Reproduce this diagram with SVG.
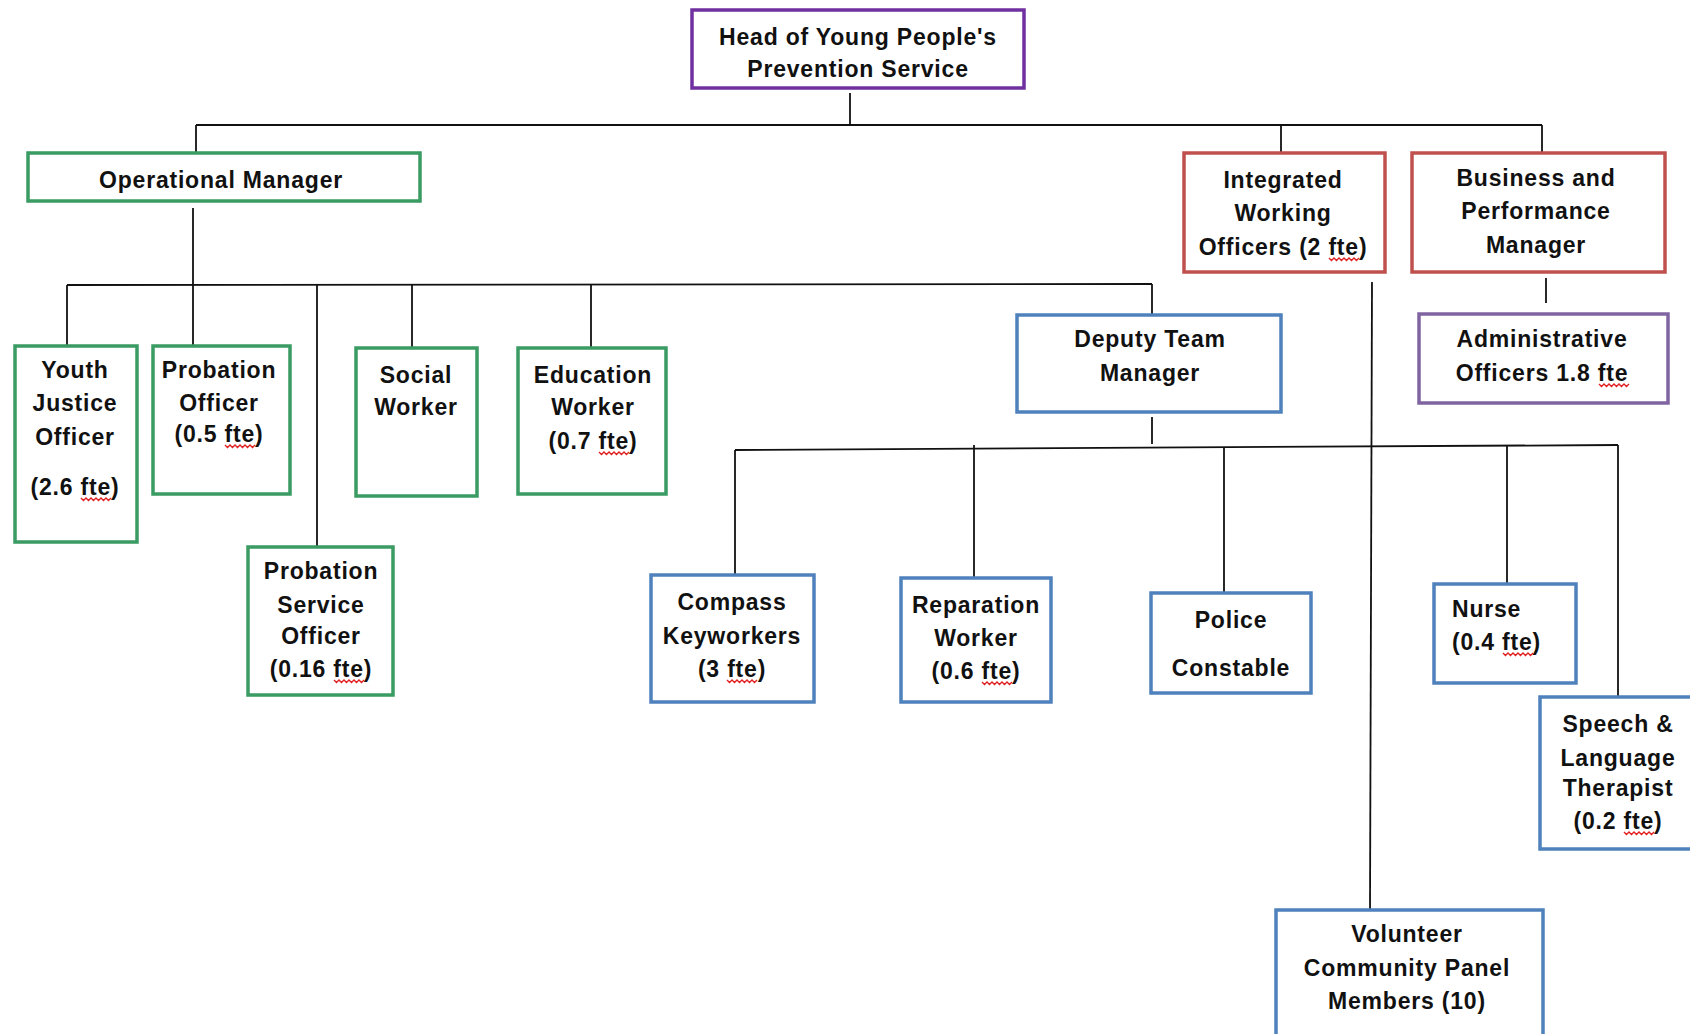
<svg xmlns="http://www.w3.org/2000/svg" xmlns:xlink="http://www.w3.org/1999/xlink" width="1690" height="1034" viewBox="0 0 1690 1034">
<style>
  .box { fill: #ffffff; stroke-width: 3.5; }
  .green { stroke: #3A9B63; }
  .red { stroke: #C0504D; }
  .blue { stroke: #4F81BD; }
  .purple { stroke: #7030A0; }
  .lilac { stroke: #8064A2; }
  .lbl { font-family: "Liberation Sans", Arial, sans-serif; font-weight: bold; font-size: 23px; letter-spacing: 0.8px; fill: #111111; text-anchor: middle; }
  .left { text-anchor: start; }
  .conn line, .conn polyline { stroke: #111111; stroke-width: 1.8; fill: none; }
  .sq { stroke: #E02020; stroke-width: 1.4; fill: none; }
</style>
<defs>
  <path id="sq" d="M0,0 l2.5,2.5 l2.5,-2.5 l2.5,2.5 l2.5,-2.5 l2.5,2.5 l2.5,-2.5 l2.5,2.5 l2.5,-2.5 l2.5,2.5 l2.5,-2.5 l2.5,2.5 l2.5,-2.5"/>
</defs>
<rect width="1690" height="1034" fill="#ffffff"/>

<g id="connectors" class="conn">
  <line x1="850" y1="93" x2="850" y2="125"/>
  <line x1="196" y1="125" x2="1542" y2="125"/>
  <line x1="196" y1="125" x2="196" y2="152"/>
  <line x1="1281" y1="125" x2="1281" y2="152"/>
  <line x1="1542" y1="125" x2="1542" y2="152"/>
  <line x1="1546" y1="278" x2="1546" y2="303"/>
  <line x1="1372" y1="282" x2="1370" y2="909"/>
  <line x1="193" y1="208" x2="193" y2="285"/>
  <line x1="67" y1="285" x2="1152" y2="284"/>
  <line x1="67" y1="285" x2="67" y2="345"/>
  <line x1="193" y1="285" x2="193" y2="345"/>
  <line x1="317" y1="285" x2="317" y2="546"/>
  <line x1="412" y1="285" x2="412" y2="347"/>
  <line x1="591" y1="285" x2="591" y2="347"/>
  <line x1="1152" y1="284" x2="1152" y2="314"/>
  <line x1="1152" y1="417" x2="1152" y2="444"/>
  <line x1="735" y1="450" x2="1618" y2="445"/>
  <line x1="735" y1="450" x2="735" y2="574"/>
  <line x1="974" y1="445" x2="974" y2="577"/>
  <line x1="1224" y1="448" x2="1224" y2="592"/>
  <line x1="1507" y1="446" x2="1507" y2="583"/>
  <line x1="1618" y1="445" x2="1618" y2="696"/>
</g>

<g id="head">
  <rect class="box purple" x="692" y="10" width="332" height="78"/>
  <text class="lbl" x="858" y="45">Head of Young People's</text>
  <text class="lbl" x="858" y="77">Prevention Service</text>
</g>

<g id="operational-manager">
  <rect class="box green" x="28" y="153" width="392" height="48"/>
  <text class="lbl" x="221" y="188">Operational Manager</text>
</g>

<g id="integrated-working">
  <rect class="box red" x="1184" y="153" width="201" height="119"/>
  <text class="lbl" x="1283" y="188">Integrated</text>
  <text class="lbl" x="1283" y="221">Working</text>
  <text class="lbl" x="1283" y="255">Officers (2 fte)</text>
</g>

<g id="business-performance">
  <rect class="box red" x="1412" y="153" width="253" height="119"/>
  <text class="lbl" x="1536" y="186">Business and</text>
  <text class="lbl" x="1536" y="219">Performance</text>
  <text class="lbl" x="1536" y="253">Manager</text>
</g>

<g id="administrative">
  <rect class="box lilac" x="1419" y="314" width="249" height="89"/>
  <text class="lbl" x="1542" y="347">Administrative</text>
  <text class="lbl" x="1542" y="381">Officers 1.8 fte</text>
</g>

<g id="youth-justice">
  <rect class="box green" x="15" y="346" width="122" height="196"/>
  <text class="lbl" x="75" y="378">Youth</text>
  <text class="lbl" x="75" y="411">Justice</text>
  <text class="lbl" x="75" y="445">Officer</text>
  <text class="lbl" x="75" y="495">(2.6 fte)</text>
</g>

<g id="probation-officer">
  <rect class="box green" x="153" y="346" width="137" height="148"/>
  <text class="lbl" x="219" y="378">Probation</text>
  <text class="lbl" x="219" y="411">Officer</text>
  <text class="lbl" x="219" y="442">(0.5 fte)</text>
</g>

<g id="probation-service-officer">
  <rect class="box green" x="248" y="547" width="145" height="148"/>
  <text class="lbl" x="321" y="579">Probation</text>
  <text class="lbl" x="321" y="613">Service</text>
  <text class="lbl" x="321" y="644">Officer</text>
  <text class="lbl" x="321" y="677">(0.16 fte)</text>
</g>

<g id="social-worker">
  <rect class="box green" x="356" y="348" width="121" height="148"/>
  <text class="lbl" x="416" y="383">Social</text>
  <text class="lbl" x="416" y="415">Worker</text>
</g>

<g id="education-worker">
  <rect class="box green" x="518" y="348" width="148" height="146"/>
  <text class="lbl" x="593" y="383">Education</text>
  <text class="lbl" x="593" y="415">Worker</text>
  <text class="lbl" x="593" y="449">(0.7 fte)</text>
</g>

<g id="deputy-team-manager">
  <rect class="box blue" x="1017" y="315" width="264" height="97"/>
  <text class="lbl" x="1150" y="347">Deputy Team</text>
  <text class="lbl" x="1150" y="381">Manager</text>
</g>

<g id="compass">
  <rect class="box blue" x="651" y="575" width="163" height="127"/>
  <text class="lbl" x="732" y="610">Compass</text>
  <text class="lbl" x="732" y="644">Keyworkers</text>
  <text class="lbl" x="732" y="677">(3 fte)</text>
</g>

<g id="reparation">
  <rect class="box blue" x="901" y="578" width="150" height="124"/>
  <text class="lbl" x="976" y="613">Reparation</text>
  <text class="lbl" x="976" y="646">Worker</text>
  <text class="lbl" x="976" y="679">(0.6 fte)</text>
</g>

<g id="police-constable">
  <rect class="box blue" x="1151" y="593" width="160" height="100"/>
  <text class="lbl" x="1231" y="628">Police</text>
  <text class="lbl" x="1231" y="676">Constable</text>
</g>

<g id="nurse">
  <rect class="box blue" x="1434" y="584" width="142" height="99"/>
  <text class="lbl left" x="1452" y="617">Nurse</text>
  <text class="lbl left" x="1452" y="650">(0.4 fte)</text>
</g>

<g id="speech-language">
  <rect class="box blue" x="1540" y="697" width="160" height="152"/>
  <text class="lbl" x="1618" y="732">Speech &amp;</text>
  <text class="lbl" x="1618" y="766">Language</text>
  <text class="lbl" x="1618" y="796">Therapist</text>
  <text class="lbl" x="1618" y="829">(0.2 fte)</text>
</g>

<g id="volunteer">
  <rect class="box blue" x="1276" y="910" width="267" height="140"/>
  <text class="lbl" x="1407" y="942">Volunteer</text>
  <text class="lbl" x="1407" y="976">Community Panel</text>
  <text class="lbl" x="1407" y="1009">Members (10)</text>
</g>

<g id="spellcheck-marks" class="sq">
  <use xlink:href="#sq" x="81" y="498"/>
  <use xlink:href="#sq" x="225" y="445"/>
  <use xlink:href="#sq" x="334" y="680"/>
  <use xlink:href="#sq" x="599" y="452"/>
  <use xlink:href="#sq" x="1329" y="258"/>
  <use xlink:href="#sq" x="1599" y="384"/>
  <use xlink:href="#sq" x="727" y="680"/>
  <use xlink:href="#sq" x="982" y="682"/>
  <use xlink:href="#sq" x="1503" y="653"/>
  <use xlink:href="#sq" x="1624" y="832"/>
</g>
</svg>
